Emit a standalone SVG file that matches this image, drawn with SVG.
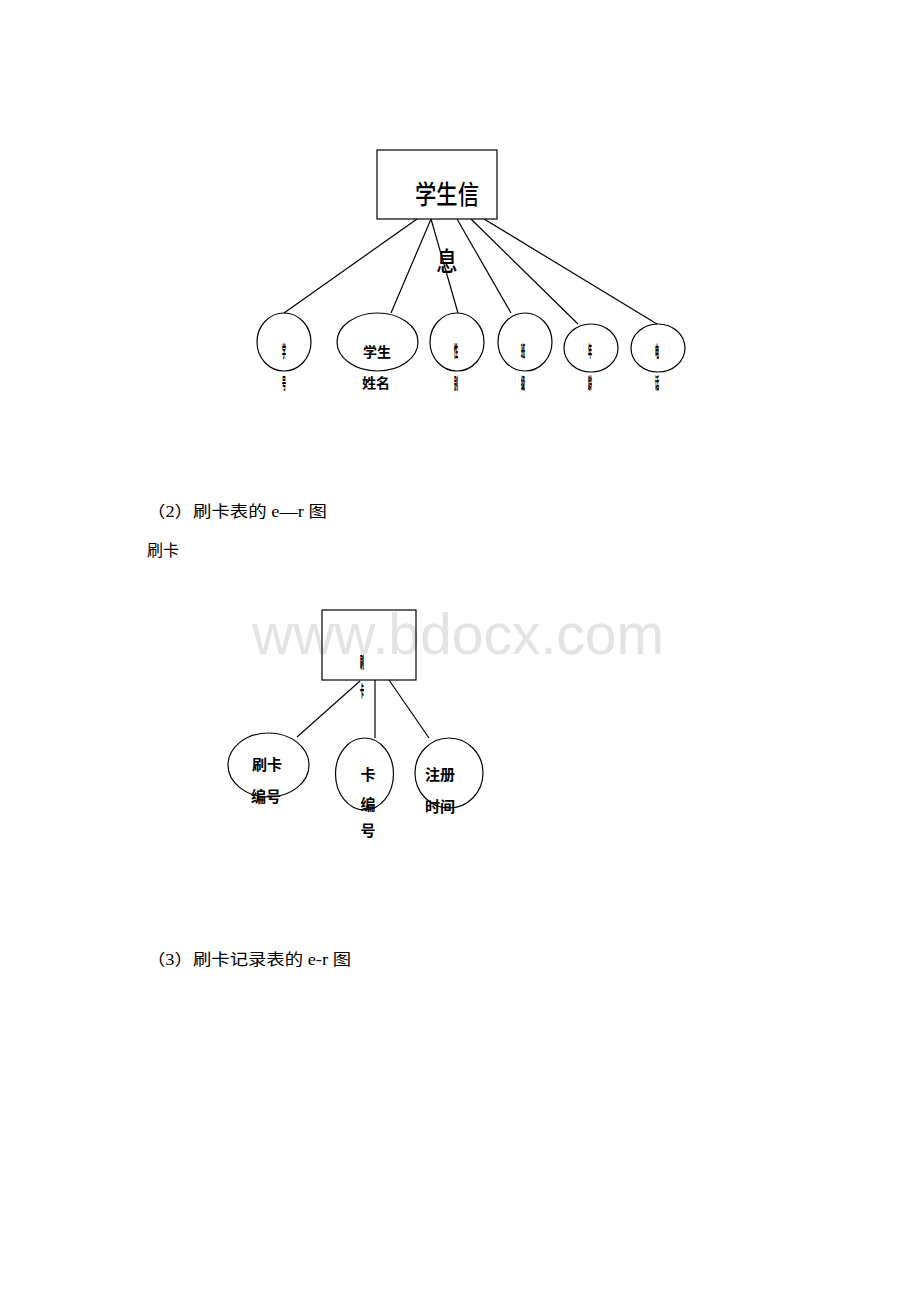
<svg xmlns="http://www.w3.org/2000/svg" width="920" height="1302" viewBox="0 0 920 1302">
<style>
.s{fill:none;stroke:#000;stroke-width:1.2}
.b{font-family:"Noto Sans CJK SC","Noto Sans",sans-serif;font-weight:bold;font-size:14px;fill:#000;text-anchor:middle}
.q{font-family:"Noto Sans CJK SC","Noto Sans",sans-serif;font-weight:900;font-size:16px;fill:#000;text-anchor:middle}
.c{font-family:"Noto Sans CJK SC","Noto Sans",sans-serif;font-weight:bold;font-size:15px;fill:#000;text-anchor:middle}
.h{font-family:"Noto Sans CJK SC","Noto Sans",sans-serif;font-weight:500;font-size:26px;fill:#000;text-anchor:middle}
.t{font-family:"Liberation Serif","Noto Sans CJK SC",serif;font-size:16px;fill:#000}
.w{font-family:"Liberation Sans",Arial,sans-serif;font-size:57px;fill:#e3e3e3}
</style>
<rect width="920" height="1302" fill="#fff"/>
<text class="w" x="252" y="654" textLength="412" lengthAdjust="spacingAndGlyphs">www.bdocx.com</text>
<g id="connectors">
<line class="s" x1="417" y1="219" x2="284" y2="313"/>
<line class="s" x1="431" y1="219" x2="391" y2="313"/>
<line class="s" x1="431" y1="219" x2="458" y2="313"/>
<line class="s" x1="457" y1="219" x2="511" y2="313"/>
<line class="s" x1="471" y1="219" x2="578" y2="324"/>
<line class="s" x1="484" y1="219" x2="657" y2="324"/>
<line class="s" x1="360" y1="681" x2="297" y2="737"/>
<line class="s" x1="375" y1="680" x2="375" y2="738"/>
<line class="s" x1="389" y1="680" x2="429" y2="738"/>
</g>
<g id="student">
<rect class="s" x="377" y="150" width="120" height="69"/>
<text class="h" transform="translate(447,204) scale(0.82,1)">学生信</text>
<text class="h" transform="translate(447,271) scale(0.82,1)">息</text>
</g>
<g id="attr1">
<ellipse class="s" cx="284" cy="342" rx="27" ry="29"/>
<text class="q" transform="translate(284,357) scale(0.25,1)">学</text>
<text class="q" transform="translate(284,389) scale(0.25,1)">号</text>
</g>
<g id="attr2">
<ellipse class="s" cx="377.5" cy="342" rx="40.5" ry="29"/>
<text class="b" x="377" y="357">学生</text>
<text class="b" x="376" y="388">姓名</text>
</g>
<g id="attr3">
<ellipse class="s" cx="457" cy="342" rx="27" ry="29"/>
<text class="q" transform="translate(456,357) scale(0.25,1)">性</text>
<text class="q" transform="translate(456,389) scale(0.25,1)">别</text>
</g>
<g id="attr4">
<ellipse class="s" cx="525" cy="342" rx="27" ry="29"/>
<text class="q" transform="translate(523,357) scale(0.25,1)">班</text>
<text class="q" transform="translate(523,389) scale(0.25,1)">级</text>
</g>
<g id="attr5">
<ellipse class="s" cx="591" cy="348" rx="27" ry="24"/>
<text class="q" transform="translate(590,357) scale(0.25,1)">年</text>
<text class="q" transform="translate(590,389) scale(0.25,1)">龄</text>
</g>
<g id="attr6">
<ellipse class="s" cx="658" cy="348" rx="27" ry="24"/>
<text class="q" transform="translate(657,357) scale(0.25,1)">电</text>
<text class="q" transform="translate(657,389) scale(0.25,1)">话</text>
</g>
<text class="t" x="147" y="517" textLength="180" lengthAdjust="spacingAndGlyphs">（2）刷卡表的 e—r 图</text>
<text class="t" x="147" y="556">刷卡</text>
<g id="card">
<rect class="s" x="322" y="610" width="94" height="70"/>
<text class="q" transform="translate(362,668) scale(0.25,1)">刷</text>
<text class="q" transform="translate(362,697) scale(0.25,1)">卡</text>
</g>
<g id="cardattr1">
<ellipse class="s" cx="268.5" cy="765" rx="40.5" ry="32"/>
<text class="c" x="267" y="770">刷卡</text>
<text class="c" x="266" y="802">编号</text>
</g>
<g id="cardattr2">
<ellipse class="s" cx="364.5" cy="774" rx="29" ry="36"/>
<text class="c" x="368" y="780">卡</text>
<text class="c" x="368" y="810">编</text>
<text class="c" x="368" y="836">号</text>
</g>
<g id="cardattr3">
<ellipse class="s" cx="449" cy="773" rx="34" ry="35"/>
<text class="c" x="440" y="780">注册</text>
<text class="c" x="440" y="812">时间</text>
</g>
<text class="t" x="147" y="965" textLength="204" lengthAdjust="spacingAndGlyphs">（3）刷卡记录表的 e-r 图</text>
</svg>
